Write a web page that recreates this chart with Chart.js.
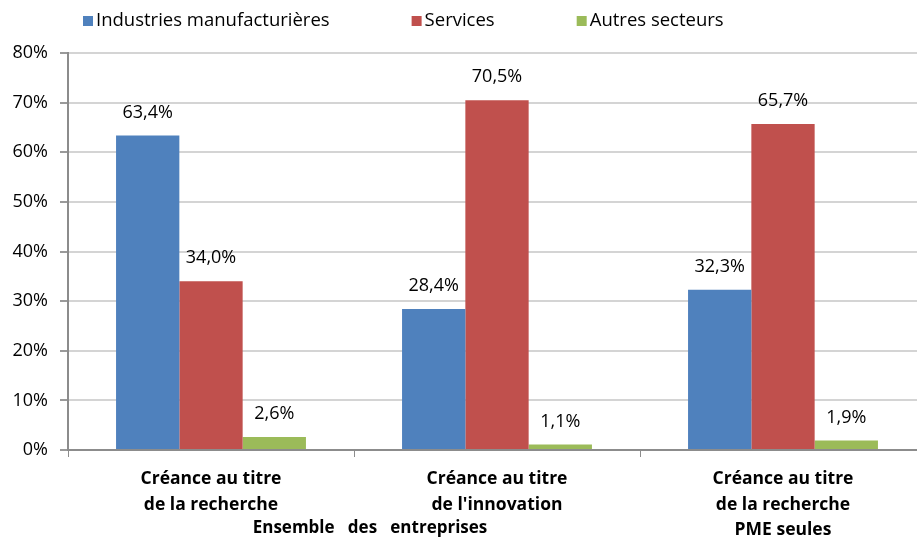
<!DOCTYPE html>
<html>
<head>
<meta charset="utf-8">
<script src="https://cdn.jsdelivr.net/npm/chart.js@4"></script>
<style>
  html, body { margin: 0; background: #fff; overflow: hidden; }
  #wrap { width: 926px; height: 538px; }
</style>
</head>
<body>
<div id="wrap"><canvas id="myChart" width="926" height="538"></canvas></div>
<script>
var categories = [
    ['Créance au titre', 'de la recherche'],
    ['Créance au titre', "de l'innovation"],
    ['Créance au titre', 'de la recherche', 'PME seules']
];
var groupLabel = 'Ensemble   des   entreprises';
var seriesNames = ['Industries manufacturières', 'Services', 'Autres secteurs'];
var industrie = [63.4, 28.4, 32.3];
var services = [34.0, 70.5, 65.7];
var autres = [2.6, 1.1, 1.9];
var colors = ['#4F81BD', '#C0504D', '#9BBB59'];

var FONT = "'Open Sans', sans-serif";

function fmt(v) {
    return v.toFixed(1).replace('.', ',') + '%';
}

// value labels above each bar
var valueLabels = {
    id: 'valueLabels',
    afterDatasetsDraw: function(chart) {
        var ctx = chart.ctx;
        ctx.save();
        ctx.font = '18px ' + FONT;
        ctx.fillStyle = '#000';
        ctx.textAlign = 'center';
        ctx.textBaseline = 'middle';
        chart.data.datasets.forEach(function(ds, i) {
            chart.getDatasetMeta(i).data.forEach(function(bar, j) {
                ctx.fillText(fmt(ds.data[j]), bar.x, bar.y - 23);
            });
        });
        ctx.restore();
    }
};

// legend row at the top, drawn by hand
var topLegend = {
    id: 'topLegend',
    afterDraw: function(chart) {
        var ctx = chart.ctx;
        ctx.save();
        ctx.font = '18.5px ' + FONT;
        ctx.textBaseline = 'middle';
        ctx.textAlign = 'left';
        var x = 83, y = 21;
        chart.data.datasets.forEach(function(ds) {
            ctx.fillStyle = ds.backgroundColor;
            ctx.fillRect(x, y - 5, 10, 10);
            ctx.fillStyle = '#000';
            ctx.fillText(ds.label, x + 13, y);
            x += 13 + ctx.measureText(ds.label).width + 82;
        });
        ctx.restore();
    }
};

// "Ensemble des entreprises" under the first two categories
var groupCaption = {
    id: 'groupCaption',
    afterDraw: function(chart) {
        var xs = chart.scales.x;
        var ctx = chart.ctx;
        var cx = (xs.getPixelForValue(0) + xs.getPixelForValue(1)) / 2 + 16;
        ctx.save();
        ctx.font = 'bold 17px ' + FONT;
        ctx.fillStyle = '#000';
        ctx.textAlign = 'center';
        ctx.textBaseline = 'middle';
        ctx.fillText(groupLabel, cx, 528);
        ctx.restore();
    }
};

var ctx = document.getElementById('myChart').getContext('2d');
var myChart = new Chart(ctx, {
    type: 'bar',
    data: {
        labels: categories,
        datasets: [
            { label: seriesNames[0], data: industrie, backgroundColor: colors[0] },
            { label: seriesNames[1], data: services, backgroundColor: colors[1] },
            { label: seriesNames[2], data: autres, backgroundColor: colors[2] }
        ]
    },
    options: {
        responsive: false,
        animation: false,
        barPercentage: 1,
        categoryPercentage: 0.664,
        layout: {
            padding: { top: 53, right: 0, left: 0, bottom: 0 }
        },
        plugins: {
            legend: { display: false },
            tooltip: { enabled: false }
        },
        scales: {
            x: {
                grid: {
                    drawOnChartArea: false,
                    offset: true,
                    tickLength: 7,
                    color: '#8c8c8c'
                },
                border: { color: '#8c8c8c', width: 2 },
                ticks: {
                    font: { family: FONT, size: 17.5, weight: 'bold', lineHeight: 1.43 },
                    color: '#000',
                    padding: 10,
                    maxRotation: 0
                },
                afterFit: function(s) { s.height = 88; }
            },
            y: {
                min: 0,
                max: 80,
                ticks: {
                    stepSize: 10,
                    font: { family: FONT, size: 18 },
                    color: '#000',
                    padding: 12,
                    callback: function(v) { return v + '%'; }
                },
                grid: {
                    color: '#d4d4d4',
                    tickColor: '#9a9a9a',
                    tickLength: 8,
                    lineWidth: 2
                },
                border: { color: '#8c8c8c', width: 2 },
                afterFit: function(s) { s.width = 68; }
            }
        }
    },
    plugins: [valueLabels, topLegend, groupCaption]
});
</script>
</body>
</html>
